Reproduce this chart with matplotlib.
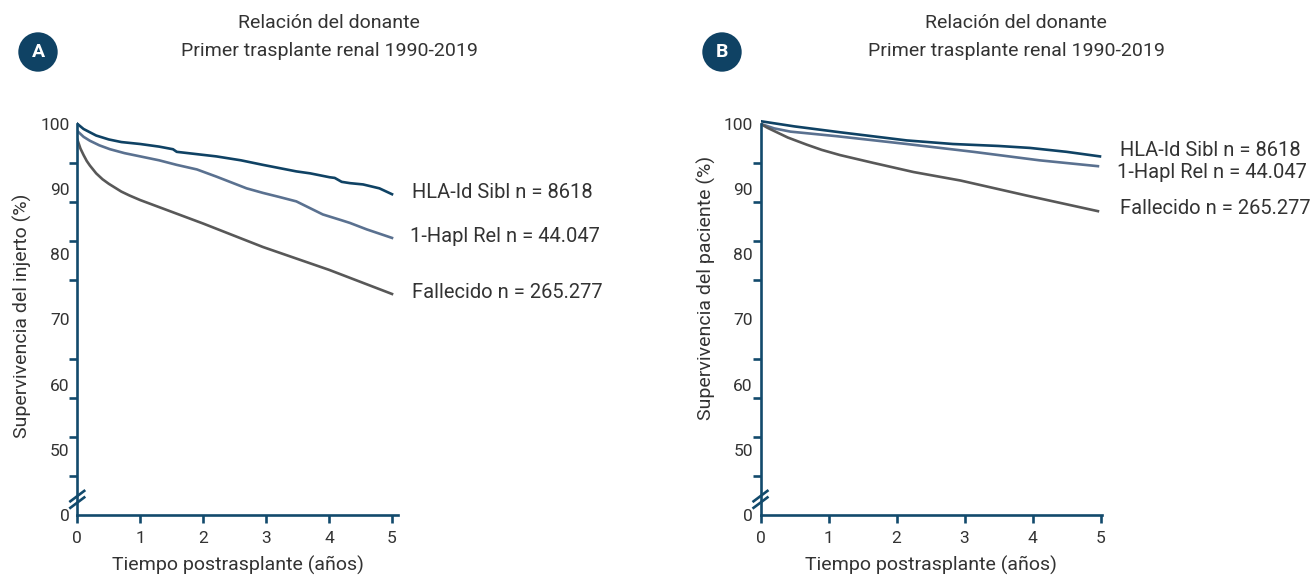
import numpy as np
import matplotlib
matplotlib.use("Agg")
import matplotlib.pyplot as plt

plt.rcParams['font.family'] = ['Liberation Sans Narrow', 'Roboto', 'DejaVu Sans']

# Panel A - graft survival (y values on the broken axis scale)
a_hla_t = [0, 0.1, 0.2, 0.3, 0.5, 0.7, 1.0, 1.3, 1.52, 1.58, 2.21, 2.6, 2.95, 3.48, 3.7, 4.01, 4.09, 4.2, 4.33, 4.54, 4.8, 5.0]
a_hla_v = [100, 99.2, 98.7, 98.2, 97.6, 97.2, 96.9, 96.5, 96.1, 95.7, 95.0, 94.4, 93.7, 92.7, 92.4, 91.8, 91.7, 91.1, 90.9, 90.7, 90.1, 89.2]
a_hapl_t = [0, 0.1, 0.2, 0.35, 0.52, 0.75, 1.0, 1.3, 1.58, 1.9, 2.21, 2.69, 2.95, 3.2, 3.48, 3.9, 4.2, 4.33, 4.6, 5.0]
a_hapl_v = [98.9, 98.0, 97.4, 96.7, 96.1, 95.5, 95.0, 94.4, 93.7, 93.0, 91.9, 90.1, 89.4, 88.8, 88.1, 86.1, 85.2, 84.8, 83.8, 82.5]
a_fall_t = [0, 0.05, 0.1, 0.15, 0.2, 0.3, 0.4, 0.5, 0.6, 0.7, 0.83, 1.0, 2.0, 2.95, 4.0, 5.0]
a_fall_v = [97.6, 96.2, 95.2, 94.3, 93.6, 92.4, 91.5, 90.8, 90.2, 89.6, 89.0, 88.3, 84.7, 81.1, 77.6, 73.9]

# Panel B - patient survival
b_hla_t = [0, 0.5, 1.17, 2.15, 2.83, 3.5, 3.96, 4.5, 4.99]
b_hla_v = [100.4, 99.6, 98.7, 97.45, 96.9, 96.6, 96.3, 95.7, 95.0]
b_hapl_t = [0, 0.2, 0.44, 1.12, 2.15, 3.13, 4.1, 4.96]
b_hapl_v = [100, 99.3, 98.8, 98.1, 96.9, 95.7, 94.4, 93.5]
b_fall_t = [0, 0.1, 0.2, 0.4, 0.68, 0.9, 1.17, 1.66, 2.25, 2.94, 3.91, 4.96]
b_fall_v = [100, 99.4, 98.9, 97.9, 96.8, 96.0, 95.2, 94.0, 92.6, 91.3, 89.0, 86.6]

series_names = ['HLA-Id Sibl n = 8618', '1-Hapl Rel n = 44.047', 'Fallecido n = 265.277']
ytick_vals = [40, 50, 60, 70, 80, 90, 100]
ytick_labels = ['0', '50', '60', '70', '80', '90', '100']
xtick_vals = [0, 1, 2, 3, 4, 5]

navy = '#0f4264'
slate = '#5a7190'
grey = '#585858'
axis_col = '#124a6c'
txt = '#333333'

fig = plt.figure(figsize=(13.16, 5.78), dpi=100)

H = 578.0
W = 1316.0
PX_PER_UNIT = 6.52


def make_axes(left_px, right_px, xmax):
    width_px = right_px - left_px
    ax = fig.add_axes([left_px / W, 1 - 515 / H, width_px / W, 61 * PX_PER_UNIT / H])
    ax.set_xlim(0, xmax)
    ax.set_ylim(40, 101)
    for s in ['top', 'right']:
        ax.spines[s].set_visible(False)
    for s in ['left', 'bottom']:
        ax.spines[s].set_color(axis_col)
        ax.spines[s].set_linewidth(1.9)
    ax.spines['left'].set_bounds(40, 100)
    ax.set_yticks(ytick_vals, labels=ytick_labels)
    ax.set_yticks(np.arange(40, 101, 6), minor=True)
    ax.tick_params(axis='y', which='major', length=0, pad=5.5, labelsize=12.5, labelcolor=txt)
    ax.tick_params(axis='y', which='minor', length=5.5, width=1.9, color=axis_col)
    ax.set_xticks(xtick_vals)
    ax.tick_params(axis='x', which='major', length=5.5, width=1.9, color=axis_col,
                   pad=6, labelsize=12.5, labelcolor=txt)
    ax.set_xlabel('Tiempo postrasplante (años)', fontsize=14, color=txt, labelpad=7)
    # axis break marks (two slanted strokes across the y axis)
    dx = 8.0 / width_px
    dy = 6.0 / PX_PER_UNIT
    for yc in (42.9, 41.9):
        ax.plot([-dx, dx], [yc - dy, yc + dy], color=axis_col, lw=1.9, clip_on=False,
                transform=ax.get_yaxis_transform(), solid_capstyle='butt')
    return ax


axA = make_axes(77.3, 398.3, 5.1)
axA.plot(a_hla_t, a_hla_v, color=navy, lw=1.9)
axA.plot(a_hapl_t, a_hapl_v, color=slate, lw=1.9)
axA.plot(a_fall_t, a_fall_v, color=grey, lw=1.9)

axB = make_axes(760.5, 1102, 5.02)
axB.plot(b_hla_t, b_hla_v, color=navy, lw=1.9)
axB.plot(b_hapl_t, b_hapl_v, color=slate, lw=1.9)
axB.plot(b_fall_t, b_fall_v, color=grey, lw=1.9)

# series labels
for (x, y), name in zip([(412, 193), (410, 237), (412, 293)], series_names):
    fig.text(x / W, 1 - y / H, name, fontsize=14.5, color=txt, va='center', ha='left')
for (x, y), name in zip([(1120, 150), (1117, 172), (1120, 209)], series_names):
    fig.text(x / W, 1 - y / H, name, fontsize=14.5, color=txt, va='center', ha='left')

# titles
for cx in (329, 1016):
    fig.text(cx / W, 1 - 23 / H, 'Relación del donante', fontsize=14, color=txt, ha='center', va='center')
    fig.text(cx / W, 1 - 51 / H, 'Primer trasplante renal 1990-2019', fontsize=14, color=txt,
             ha='center', va='center')

# y labels
fig.text(22 / W, 1 - 316 / H, 'Supervivencia del injerto (%)', rotation=90, fontsize=14,
         color=txt, ha='center', va='center')
fig.text(706 / W, 1 - 288 / H, 'Supervivencia del paciente (%)', rotation=90, fontsize=14,
         color=txt, ha='center', va='center')

# panel badges
for cx, letter in ((38, 'A'), (722, 'B')):
    fig.text(cx / W, 1 - 52 / H, letter, fontsize=14, fontweight='bold', color='white',
             ha='center', va='center',
             bbox=dict(boxstyle='circle,pad=0.55', fc=navy, ec='none'))

fig.savefig('out.png', dpi=100)
